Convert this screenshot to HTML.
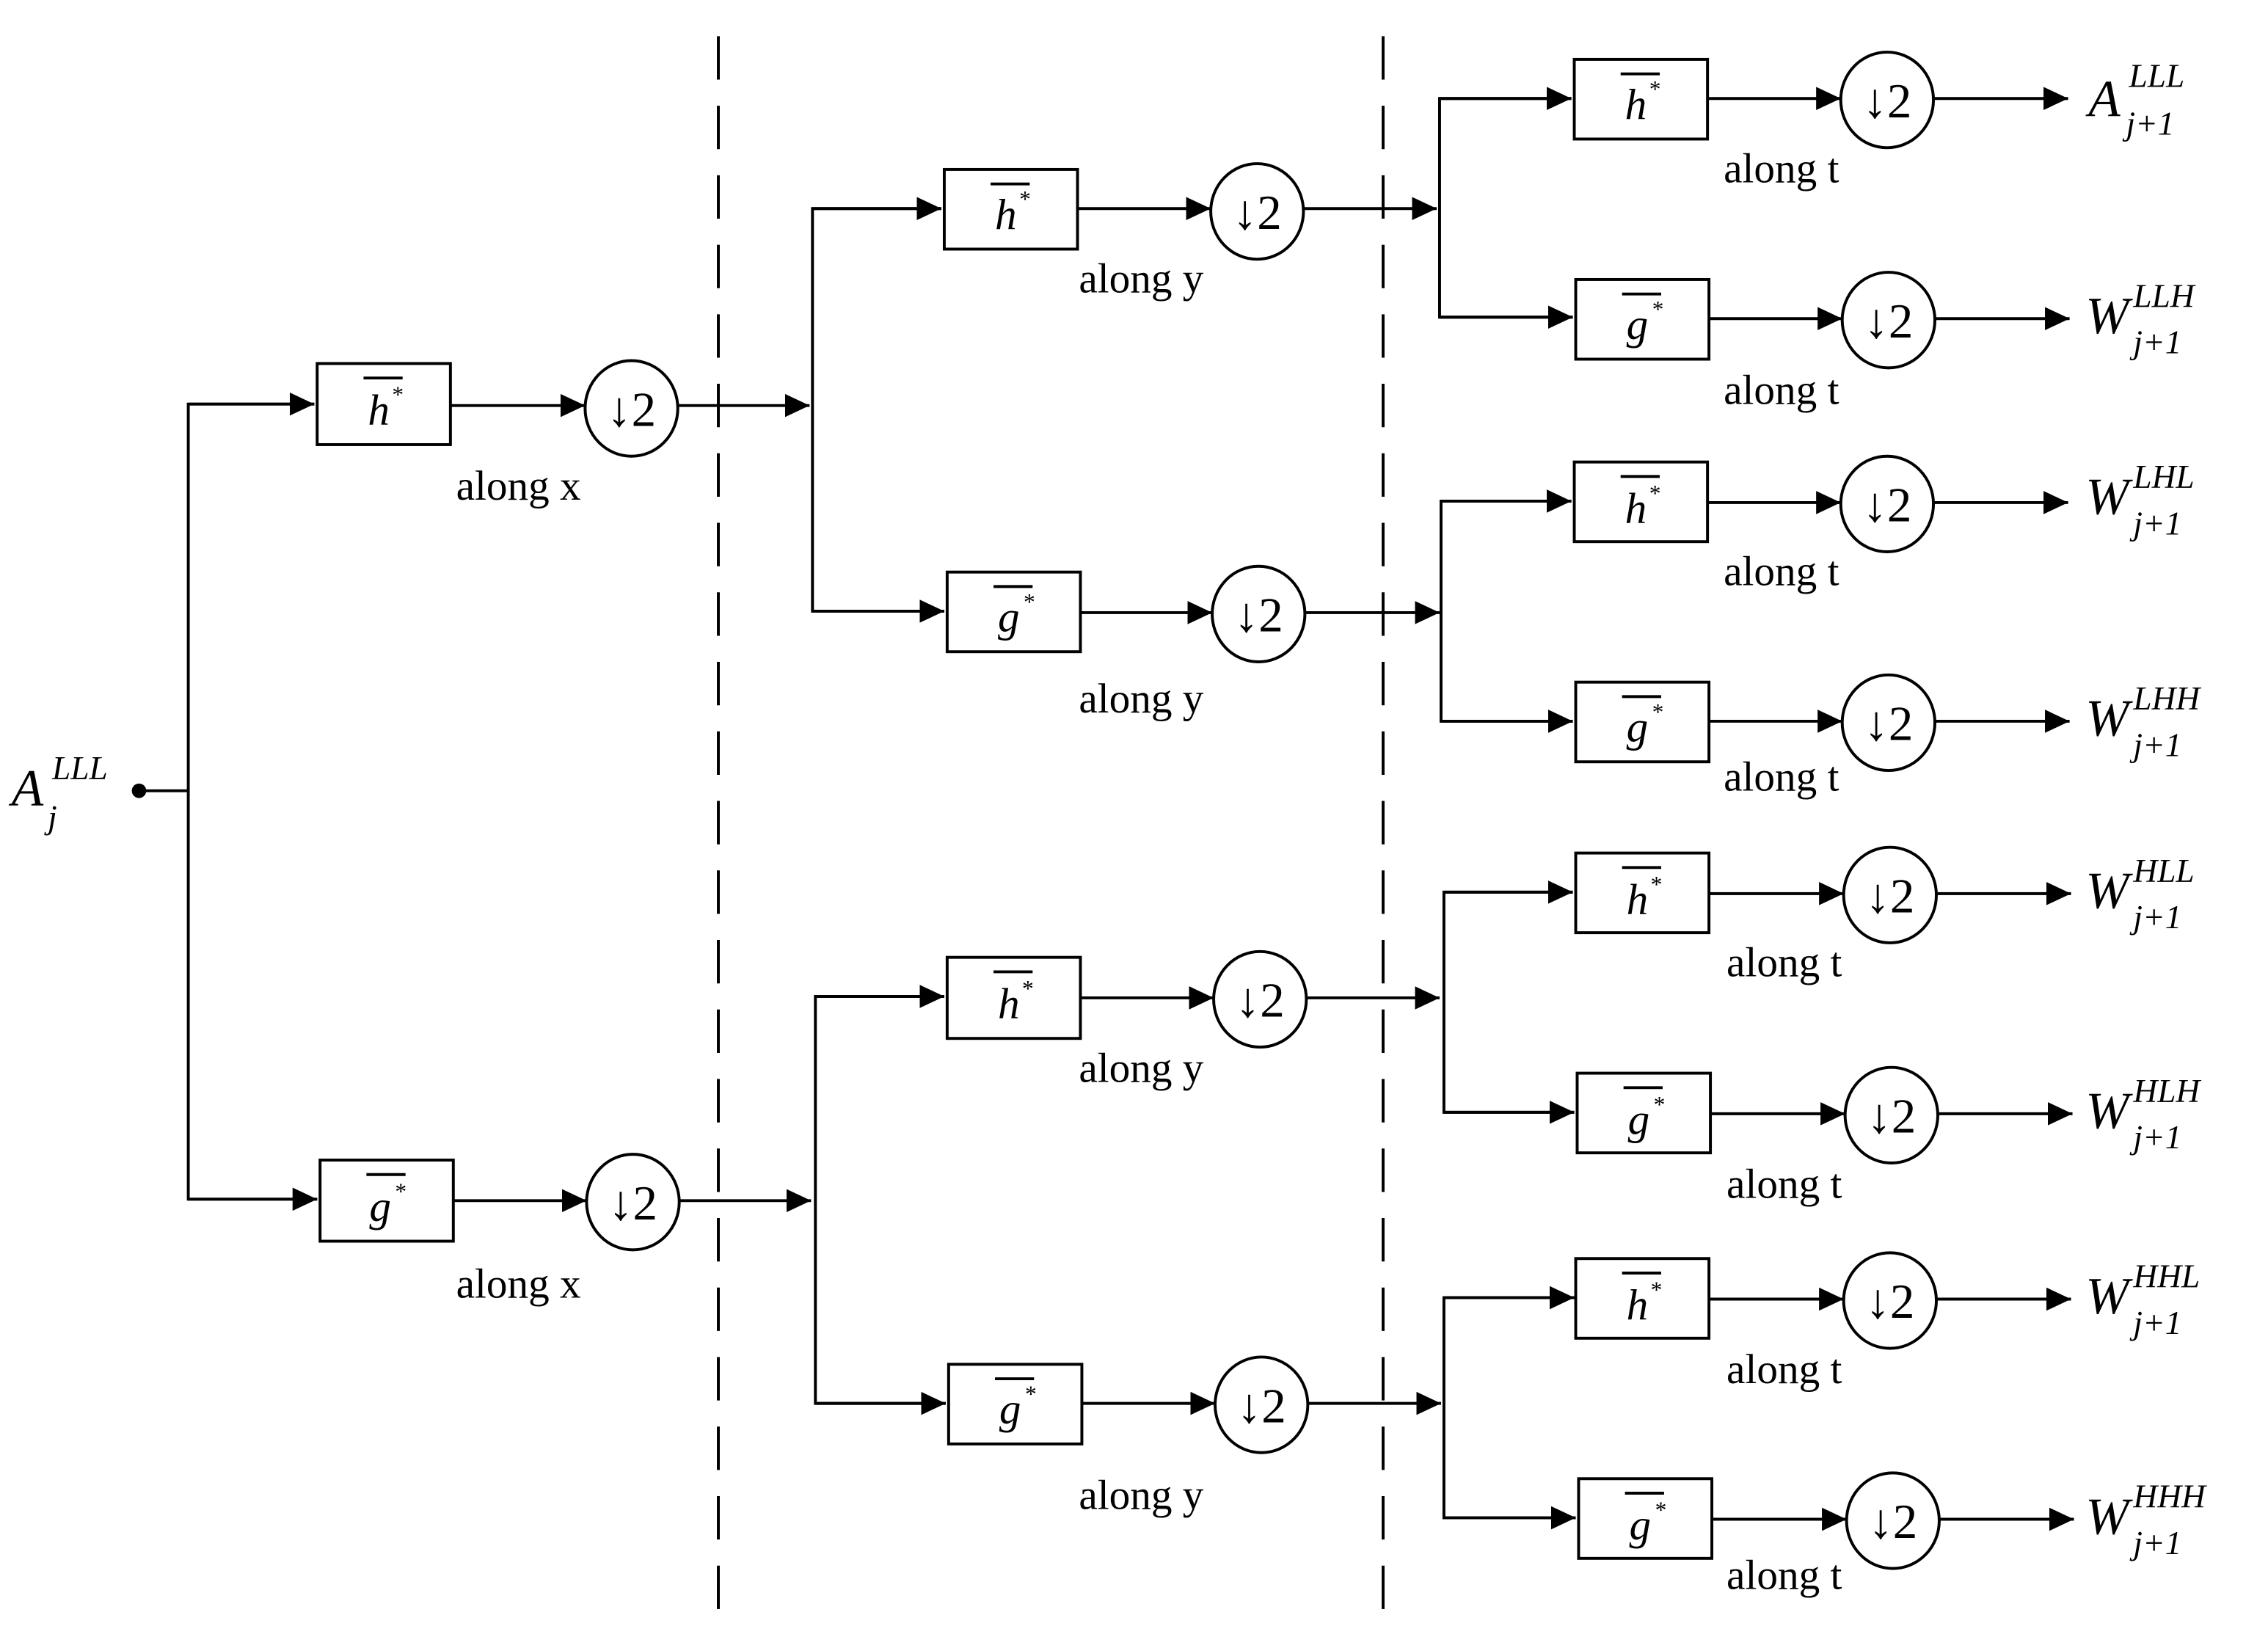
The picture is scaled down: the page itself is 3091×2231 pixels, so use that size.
<!DOCTYPE html>
<html><head><meta charset="utf-8"><style>
html,body{margin:0;padding:0;background:#fff;}
svg{display:block;}
text{font-family:"Liberation Serif",serif;fill:#000;}
.lab{font-size:29px;}
</style></head><body>
<svg width="3091" height="2231" viewBox="0 0 1566 1130.3" preserveAspectRatio="none" xmlns="http://www.w3.org/2000/svg">
<defs>
<marker id="a" markerUnits="userSpaceOnUse" markerWidth="20" markerHeight="18" refX="17" refY="8" orient="auto">
<path d="M0,0 L17,8 L0,16 Z" fill="#000"/>
</marker>
</defs>
<g stroke="#000" stroke-width="2" fill="none">
<line x1="496" y1="25" x2="496" y2="1118" stroke-dasharray="30,18"/>
<line x1="955" y1="25" x2="955" y2="1118" stroke-dasharray="30,18"/>
<line x1="96" y1="546" x2="130" y2="546"/>
<polyline points="217,279 130,279 130,828 219,828" />
<line x1="130" y1="279" x2="217" y2="279" marker-end="url(#a)"/>
<line x1="130" y1="828" x2="219" y2="828" marker-end="url(#a)"/>
<rect x="219" y="251" width="92" height="56"/>
<ellipse cx="436" cy="282" rx="32" ry="33"/>
<line x1="311" y1="280" x2="404" y2="280" marker-end="url(#a)"/>
<line x1="468" y1="280" x2="559" y2="280" marker-end="url(#a)"/>
<rect x="221" y="801" width="92" height="56"/>
<ellipse cx="437" cy="830" rx="32" ry="33"/>
<line x1="313" y1="829" x2="405" y2="829" marker-end="url(#a)"/>
<line x1="469" y1="829" x2="560" y2="829" marker-end="url(#a)"/>
<polyline points="650,144 561,144 561,422 652,422"/>
<line x1="561" y1="144" x2="650" y2="144" marker-end="url(#a)"/>
<line x1="561" y1="422" x2="652" y2="422" marker-end="url(#a)"/>
<polyline points="652,688 563,688 563,969 653,969"/>
<line x1="563" y1="688" x2="652" y2="688" marker-end="url(#a)"/>
<line x1="563" y1="969" x2="653" y2="969" marker-end="url(#a)"/>
<rect x="652" y="117" width="92" height="55"/>
<ellipse cx="868" cy="146" rx="32" ry="33"/>
<line x1="744" y1="144" x2="836" y2="144" marker-end="url(#a)"/>
<line x1="900" y1="144" x2="992" y2="144" marker-end="url(#a)"/>
<rect x="654" y="395" width="92" height="55"/>
<ellipse cx="869" cy="424" rx="32" ry="33"/>
<line x1="746" y1="423" x2="837" y2="423" marker-end="url(#a)"/>
<line x1="901" y1="423" x2="994" y2="423" marker-end="url(#a)"/>
<rect x="654" y="661" width="92" height="56"/>
<ellipse cx="870" cy="690" rx="32" ry="33"/>
<line x1="746" y1="689" x2="838" y2="689" marker-end="url(#a)"/>
<line x1="902" y1="689" x2="994" y2="689" marker-end="url(#a)"/>
<rect x="655" y="942" width="92" height="55"/>
<ellipse cx="871" cy="970" rx="32" ry="33"/>
<line x1="747" y1="969" x2="839" y2="969" marker-end="url(#a)"/>
<line x1="903" y1="969" x2="995" y2="969" marker-end="url(#a)"/>
<polyline points="1085,68 994,68 994,219 1086,219"/>
<line x1="994" y1="68" x2="1085" y2="68" marker-end="url(#a)"/>
<line x1="994" y1="219" x2="1086" y2="219" marker-end="url(#a)"/>
<polyline points="1085,346 995,346 995,498 1086,498"/>
<line x1="995" y1="346" x2="1085" y2="346" marker-end="url(#a)"/>
<line x1="995" y1="498" x2="1086" y2="498" marker-end="url(#a)"/>
<polyline points="1086,616 997,616 997,768 1087,768"/>
<line x1="997" y1="616" x2="1086" y2="616" marker-end="url(#a)"/>
<line x1="997" y1="768" x2="1087" y2="768" marker-end="url(#a)"/>
<polyline points="1087,896 997,896 997,1048 1088,1048"/>
<line x1="997" y1="896" x2="1087" y2="896" marker-end="url(#a)"/>
<line x1="997" y1="1048" x2="1088" y2="1048" marker-end="url(#a)"/>
<rect x="1087" y="41" width="92" height="55"/>
<ellipse cx="1303" cy="69" rx="32" ry="33"/>
<line x1="1179" y1="68" x2="1271" y2="68" marker-end="url(#a)"/>
<line x1="1335" y1="68" x2="1428" y2="68" marker-end="url(#a)"/>
<rect x="1088" y="193" width="92" height="55"/>
<ellipse cx="1304" cy="221" rx="32" ry="33"/>
<line x1="1180" y1="220" x2="1272" y2="220" marker-end="url(#a)"/>
<line x1="1336" y1="220" x2="1429" y2="220" marker-end="url(#a)"/>
<rect x="1087" y="319" width="92" height="55"/>
<ellipse cx="1303" cy="348" rx="32" ry="33"/>
<line x1="1179" y1="347" x2="1271" y2="347" marker-end="url(#a)"/>
<line x1="1335" y1="347" x2="1428" y2="347" marker-end="url(#a)"/>
<rect x="1088" y="471" width="92" height="55"/>
<ellipse cx="1304" cy="499" rx="32" ry="33"/>
<line x1="1180" y1="498" x2="1272" y2="498" marker-end="url(#a)"/>
<line x1="1336" y1="498" x2="1429" y2="498" marker-end="url(#a)"/>
<rect x="1088" y="589" width="92" height="55"/>
<ellipse cx="1305" cy="618" rx="32" ry="33"/>
<line x1="1180" y1="617" x2="1273" y2="617" marker-end="url(#a)"/>
<line x1="1337" y1="617" x2="1430" y2="617" marker-end="url(#a)"/>
<rect x="1089" y="741" width="92" height="55"/>
<ellipse cx="1306" cy="770" rx="32" ry="33"/>
<line x1="1181" y1="769" x2="1274" y2="769" marker-end="url(#a)"/>
<line x1="1338" y1="769" x2="1431" y2="769" marker-end="url(#a)"/>
<rect x="1088" y="869" width="92" height="55"/>
<ellipse cx="1305" cy="898" rx="32" ry="33"/>
<line x1="1180" y1="897" x2="1273" y2="897" marker-end="url(#a)"/>
<line x1="1337" y1="897" x2="1430" y2="897" marker-end="url(#a)"/>
<rect x="1090" y="1021" width="92" height="55"/>
<ellipse cx="1307" cy="1050" rx="32" ry="33"/>
<line x1="1182" y1="1049" x2="1275" y2="1049" marker-end="url(#a)"/>
<line x1="1339" y1="1049" x2="1432" y2="1049" marker-end="url(#a)"/>
</g>
<circle cx="96" cy="546" r="5" fill="#000"/>

<g stroke="#000" stroke-width="2">
<line x1="251" y1="261" x2="278" y2="261"/><line x1="253" y1="811" x2="280" y2="811"/>
<line x1="684" y1="127" x2="711" y2="127"/><line x1="686" y1="405" x2="713" y2="405"/>
<line x1="686" y1="671" x2="713" y2="671"/><line x1="687" y1="952" x2="714" y2="952"/>
<line x1="1119" y1="51" x2="1146" y2="51"/><line x1="1120" y1="203" x2="1147" y2="203"/>
<line x1="1119" y1="329" x2="1146" y2="329"/><line x1="1120" y1="481" x2="1147" y2="481"/>
<line x1="1120" y1="599" x2="1147" y2="599"/><line x1="1121" y1="751" x2="1148" y2="751"/>
<line x1="1120" y1="879" x2="1147" y2="879"/><line x1="1122" y1="1031" x2="1149" y2="1031"/>
</g>
<g font-size="30" font-style="italic">
<text x="254" y="293">h</text><text x="270" y="278" font-size="16">*</text>
<text x="255" y="843">g</text><text x="272" y="828" font-size="16">*</text>
<text x="687" y="158">h</text><text x="703" y="143" font-size="16">*</text>
<text x="689" y="436">g</text><text x="706" y="421" font-size="16">*</text>
<text x="689" y="703">h</text><text x="705" y="688" font-size="16">*</text>
<text x="690" y="983">g</text><text x="707" y="968" font-size="16">*</text>
<text x="1122" y="82">h</text><text x="1138" y="67" font-size="16">*</text>
<text x="1123" y="234">g</text><text x="1140" y="219" font-size="16">*</text>
<text x="1122" y="361">h</text><text x="1138" y="346" font-size="16">*</text>
<text x="1123" y="512">g</text><text x="1140" y="497" font-size="16">*</text>
<text x="1123" y="631">h</text><text x="1139" y="616" font-size="16">*</text>
<text x="1124" y="783">g</text><text x="1141" y="768" font-size="16">*</text>
<text x="1123" y="911">h</text><text x="1139" y="896" font-size="16">*</text>
<text x="1125" y="1063">g</text><text x="1142" y="1048" font-size="16">*</text>
</g>
<g font-size="34" text-anchor="middle">
<text x="436" y="294">↓2</text><text x="437" y="842">↓2</text>
<text x="868" y="158">↓2</text><text x="869" y="436">↓2</text>
<text x="870" y="702">↓2</text><text x="871" y="982">↓2</text>
<text x="1303" y="81">↓2</text><text x="1304" y="233">↓2</text>
<text x="1303" y="360">↓2</text><text x="1304" y="511">↓2</text>
<text x="1305" y="630">↓2</text><text x="1306" y="782">↓2</text>
<text x="1305" y="910">↓2</text><text x="1307" y="1062">↓2</text>
</g>
<g class="lab" text-anchor="middle">
<text x="358" y="345">along x</text><text x="358" y="896">along x</text>
<text x="788" y="202">along y</text><text x="788" y="492">along y</text>
<text x="788" y="747">along y</text><text x="788" y="1042">along y</text>
<text x="1230" y="126">along t</text><text x="1230" y="279">along t</text>
<text x="1230" y="404">along t</text><text x="1230" y="546">along t</text>
<text x="1232" y="674">along t</text><text x="1232" y="827">along t</text>
<text x="1232" y="955">along t</text><text x="1232" y="1097">along t</text>
</g>
<g font-style="italic">
<text x="8" y="556" font-size="36">A</text>
<text x="36" y="538" font-size="23">LLL</text>
<text x="33" y="572" font-size="23">j</text>
</g>
<g font-style="italic">
<text x="1442" y="80" font-size="36">A</text><text x="1470" y="60" font-size="23">LLL</text><text x="1468" y="93" font-size="23">j+1</text>
<text x="1440" y="230" font-size="36">W</text><text x="1473" y="212" font-size="23">LLH</text><text x="1473" y="244" font-size="23">j+1</text>
<text x="1440" y="355" font-size="36">W</text><text x="1473" y="337" font-size="23">LHL</text><text x="1473" y="369" font-size="23">j+1</text>
<text x="1440" y="508" font-size="36">W</text><text x="1473" y="490" font-size="23">LHH</text><text x="1473" y="522" font-size="23">j+1</text>
<text x="1440" y="627" font-size="36">W</text><text x="1473" y="609" font-size="23">HLL</text><text x="1473" y="641" font-size="23">j+1</text>
<text x="1440" y="779" font-size="36">W</text><text x="1473" y="761" font-size="23">HLH</text><text x="1473" y="793" font-size="23">j+1</text>
<text x="1440" y="907" font-size="36">W</text><text x="1473" y="889" font-size="23">HHL</text><text x="1473" y="921" font-size="23">j+1</text>
<text x="1440" y="1059" font-size="36">W</text><text x="1473" y="1041" font-size="23">HHH</text><text x="1473" y="1073" font-size="23">j+1</text>
</g>
</svg>
</body></html>
